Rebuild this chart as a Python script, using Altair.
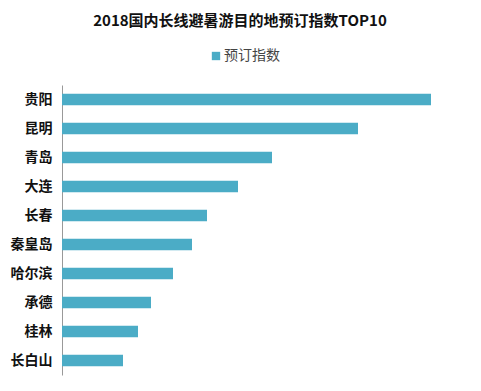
import altair as alt
import pandas as pd

cities = ["贵阳", "昆明", "青岛", "大连", "长春", "秦皇岛", "哈尔滨", "承德", "桂林", "长白山"]
values = [369, 296, 210, 176, 145, 130, 111, 89, 76, 61]
series = ["预订指数"] * len(cities)

df = pd.DataFrame({"city": cities, "value": values, "series": series})

FONT = "Noto Sans CJK SC"

chart = alt.Chart(df).mark_bar().encode(
    y=alt.Y("city:N", sort=cities, title=None,
            scale=alt.Scale(paddingInner=0.6, paddingOuter=0.3),
            axis=alt.Axis(labelFont=FONT, labelFontWeight="bold", labelFontSize=14,
                          labelColor="#111111", ticks=False, labelPadding=10,
                          domainColor="#999999", domainWidth=1)),
    x=alt.X("value:Q", title=None, scale=alt.Scale(domain=[0, 400]),
            axis=None),
    color=alt.Color("series:N", scale=alt.Scale(range=["#4BACC6"]),
                    legend=alt.Legend(title=None, orient="none", legendX=147, legendY=-36,
                                      symbolType="square", symbolSize=70, labelOffset=1,
                                      labelFont=FONT, labelFontSize=14, labelColor="#444444")),
).properties(
    width=400, height=290,
    title=alt.TitleParams("2018国内长线避暑游目的地预订指数TOP10", font=FONT, fontSize=15,
                          fontWeight="bold", color="#111111", anchor="middle", dx=-22, dy=-16),
    autosize=alt.AutoSizeParams(type="none"),
    padding={"left": 54, "top": 77, "right": 10, "bottom": 8},
).configure_view(stroke=None)

chart.save("out.html", embed_options={"renderer": "svg", "actions": False})
